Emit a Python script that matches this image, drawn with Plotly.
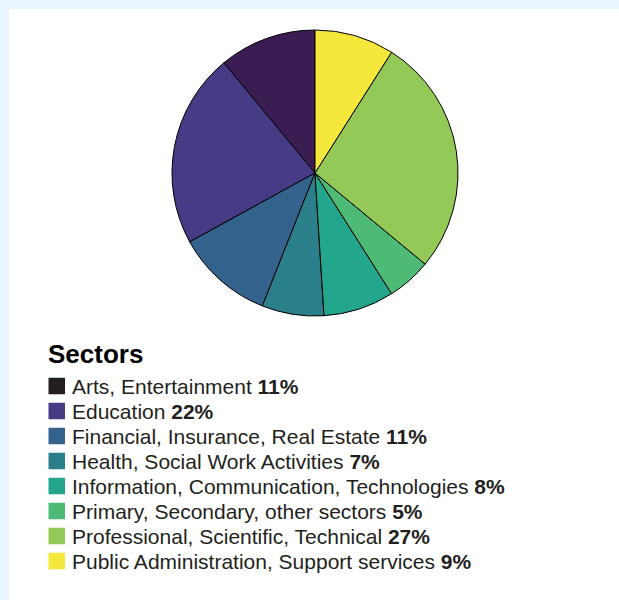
import plotly.graph_objects as go

# Share of each sector, listed counterclockwise from 12 o'clock
sectors = [
    "Arts, Entertainment",
    "Education",
    "Financial, Insurance, Real Estate",
    "Health, Social Work Activities",
    "Information, Communication, Technologies",
    "Primary, Secondary, other sectors",
    "Professional, Scientific, Technical",
    "Public Administration, Support services",
]
shares = [11, 22, 11, 7, 8, 5, 27, 9]
slice_colors = ["#3b1c53", "#453c85", "#33638d", "#2a7f8a",
                "#23a68b", "#4dbb76", "#95c957", "#f6e73d"]
key_colors = ["#231f20"] + slice_colors[1:]

W, H = 619, 600
FONT = "Liberation Sans, Arial, Helvetica, sans-serif"
INK = "#231f20"

fig = go.Figure()

# pie: centre (315, 173), radius 143 px; first slice ends at 12 o'clock
cx, cy, r = 315, 173, 143
fig.add_trace(go.Pie(
    labels=sectors,
    values=shares,
    sort=False,
    direction="counterclockwise",
    rotation=-shares[0] / sum(shares) * 360,
    marker=dict(colors=slice_colors, line=dict(color="#000000", width=1)),
    textinfo="none",
    hoverinfo="label+percent",
    showlegend=False,
    domain=dict(x=[(cx - r) / W, (cx + r) / W],
                y=[1 - (cy + r) / H, 1 - (cy - r) / H]),
))

shapes = [
    # white card on the pale blue page
    dict(type="rect", xref="paper", yref="paper",
         x0=9 / W, x1=1, y0=0, y1=1 - 9 / H,
         fillcolor="#ffffff", line=dict(width=0), layer="below"),
]
annotations = [
    dict(text="<b>Sectors</b>", xref="paper", yref="paper",
         x=46 / W, y=1 - 354 / H, xanchor="left", yanchor="middle",
         showarrow=False, font=dict(family=FONT, size=26, color="#000000")),
]

# key: swatch + label with bold share
row0, step, sw = 386, 25, 16.5
x_sw, x_txt = 48.5, 70
for i, (name, val, col) in enumerate(zip(sectors, shares, key_colors)):
    yc = row0 + i * step
    shapes.append(dict(type="rect", xref="paper", yref="paper",
                       x0=x_sw / W, x1=(x_sw + sw) / W,
                       y0=1 - (yc + sw / 2) / H, y1=1 - (yc - sw / 2) / H,
                       fillcolor=col, line=dict(width=0)))
    annotations.append(dict(
        text=f"{name} <b>{val}%</b>", xref="paper", yref="paper",
        x=x_txt / W, y=1 - yc / H, xanchor="left", yanchor="middle",
        showarrow=False, font=dict(family=FONT, size=21, color=INK)))

fig.update_layout(
    width=W, height=H,
    margin=dict(l=0, r=0, t=0, b=0),
    paper_bgcolor="#e8f5fd",
    plot_bgcolor="#ffffff",
    shapes=shapes,
    annotations=annotations,
)

fig.write_html("out.html")
